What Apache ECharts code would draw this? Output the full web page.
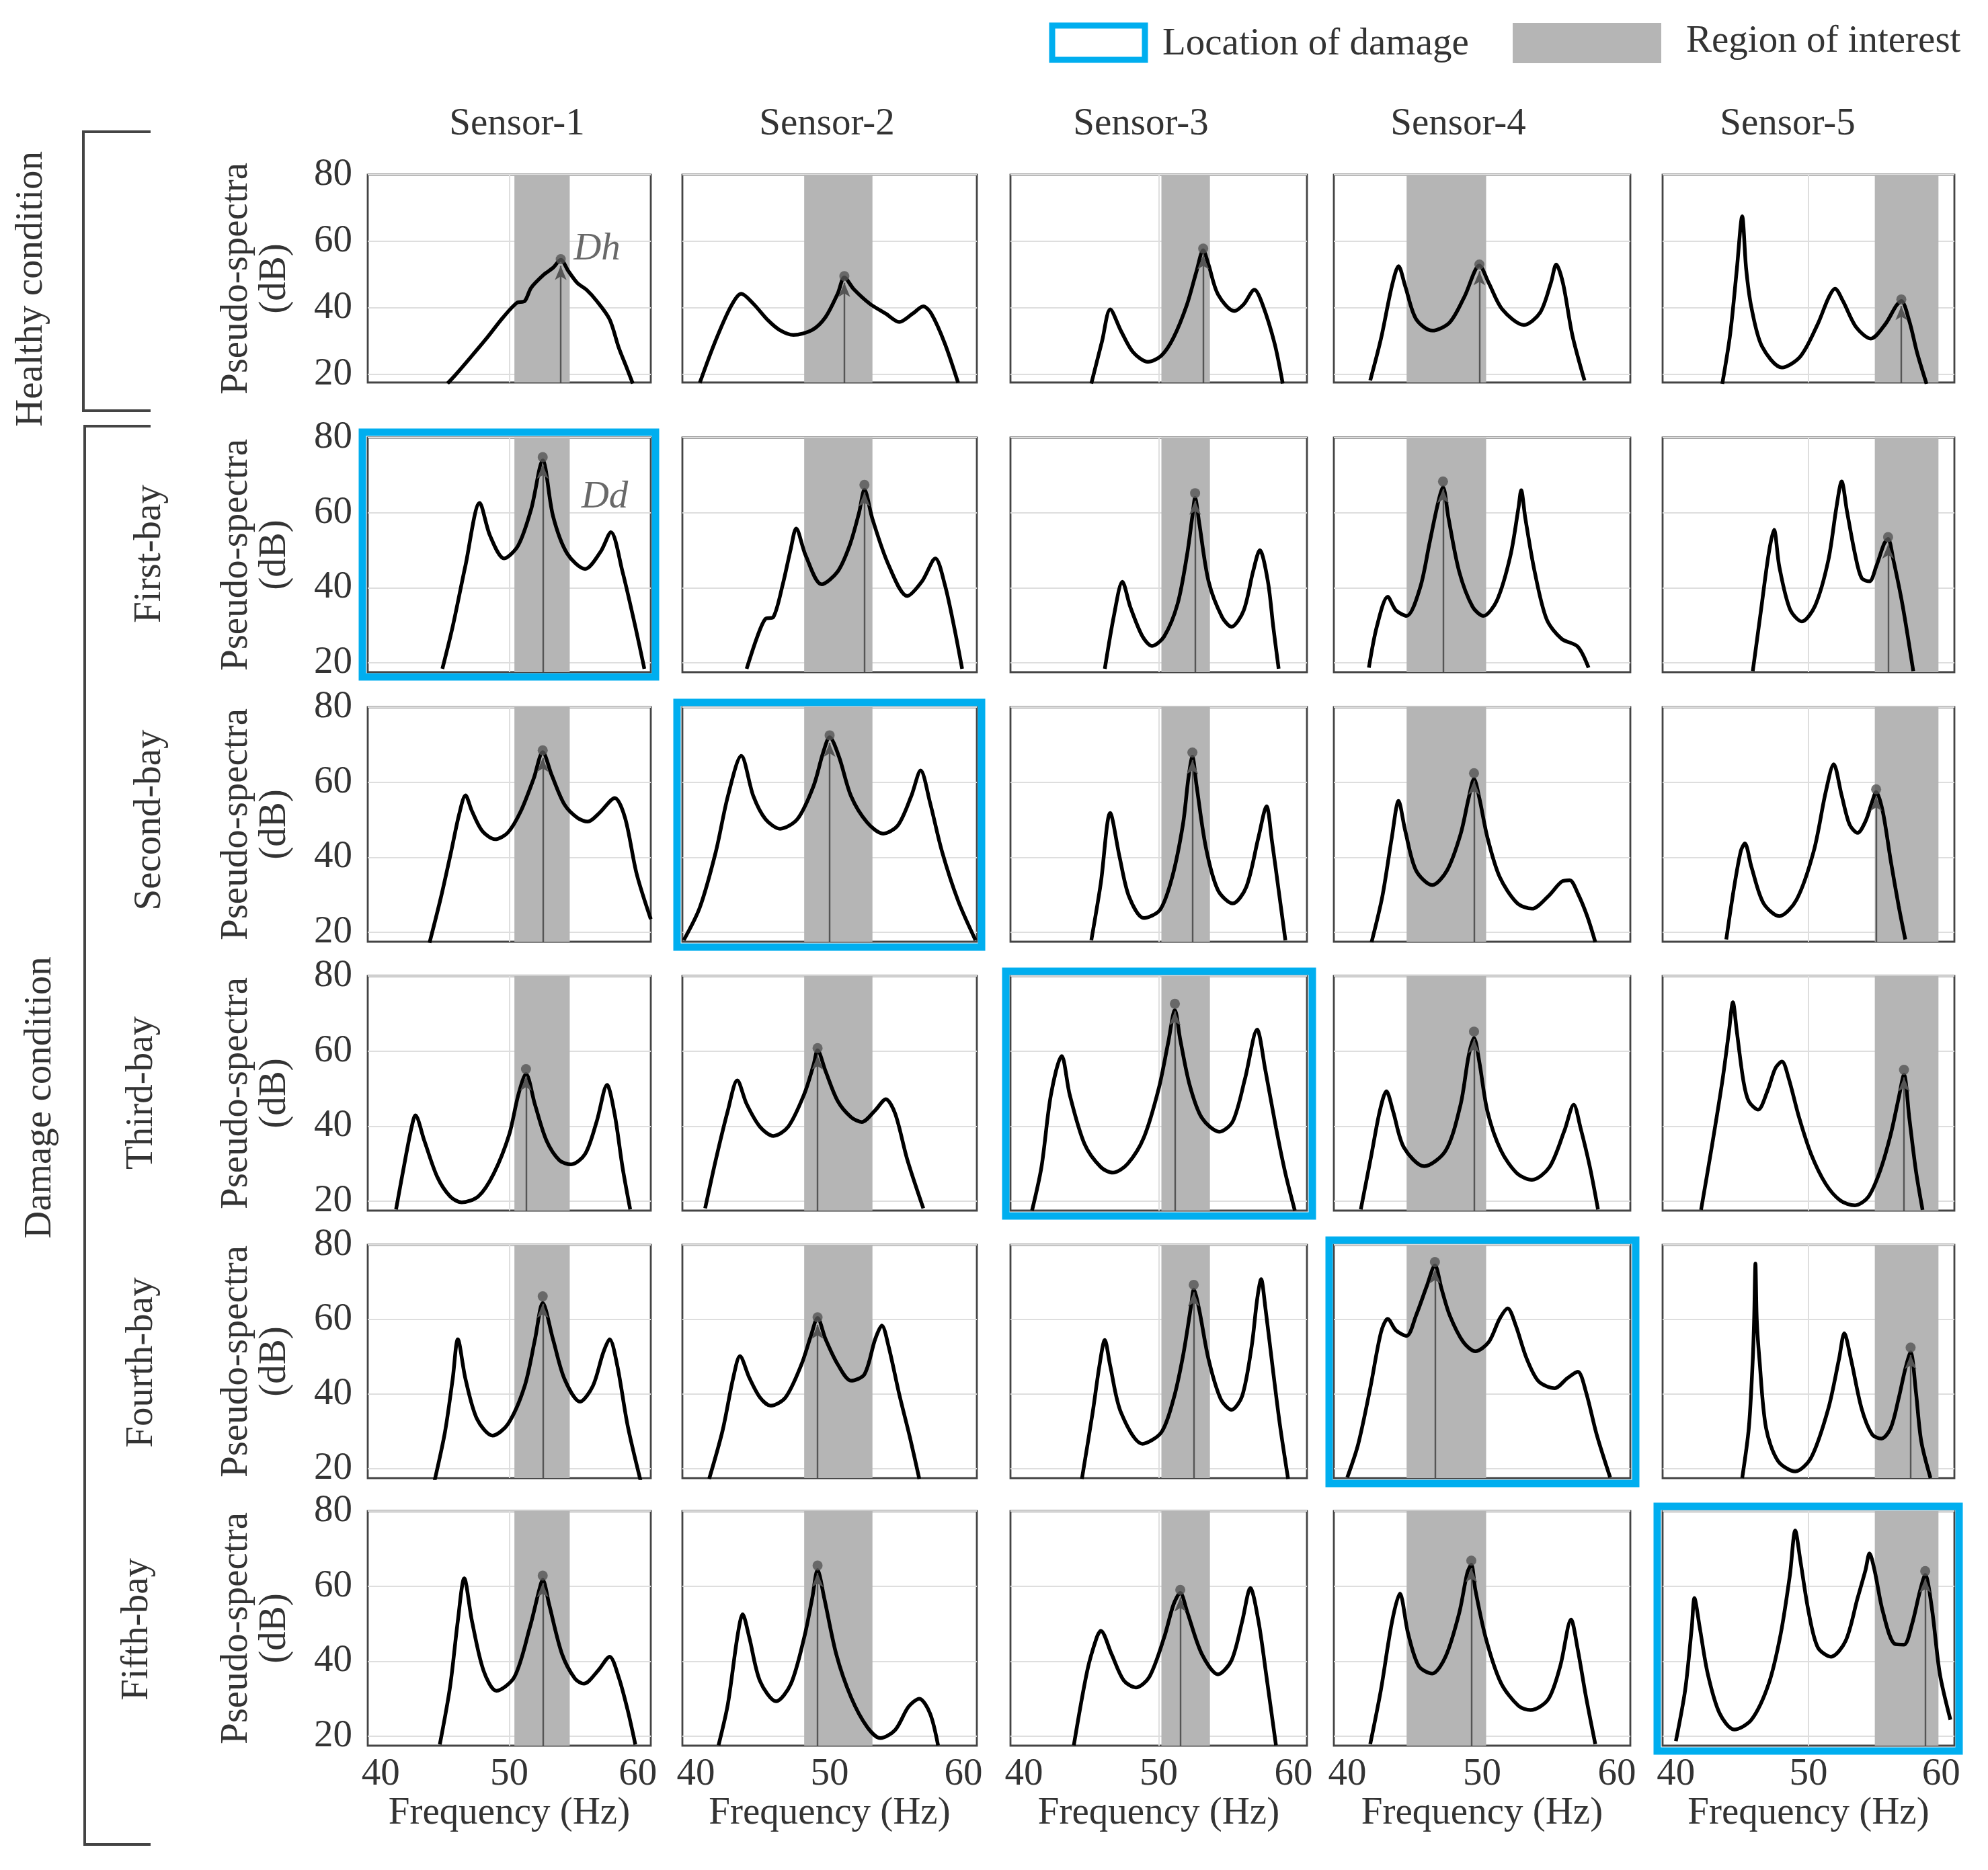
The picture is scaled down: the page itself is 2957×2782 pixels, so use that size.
<!DOCTYPE html>
<html>
<head>
<meta charset="utf-8">
<script src="https://cdn.jsdelivr.net/npm/echarts@6/dist/echarts.min.js"></script>
<style>
html, body { margin: 0; background: #fff; }
#chart { width: 2957px; height: 2782px; }
</style>
</head>
<body>
<div id="chart"></div>
<script>
// labels
var sensorNames = ['Sensor-1', 'Sensor-2', 'Sensor-3', 'Sensor-4', 'Sensor-5'];
var bayNames = ['', 'First-bay', 'Second-bay', 'Third-bay', 'Fourth-bay', 'Fifth-bay'];
var freqTicks = [40, 50, 60];
var dbTicks = [20, 40, 60, 80];

// region of interest per sensor (Hz)
var roiLow = [50.4, 48.1, 50.2, 44.4, 55.0];
var roiHigh = [54.7, 53.2, 53.8, 50.3, 59.8];

// damaged sensor column per row (-1 = healthy)
var damageAt = [-1, 0, 1, 2, 3, 4];

// pseudo-spectra [Hz, dB]
var healthy_s1 = [[45.2,17.2],[45.8,19.7],[47.0,25.1],[48.3,31.1],[49.5,37],[50.6,41.5],[51.2,42],[51.7,46],[52.7,50],[53.4,52],[54.0,54.4],[54.6,51],[55.3,47.4],[56.0,45.4],[56.8,42],[57.8,36.5],[58.5,28.1],[59.1,22.2],[59.6,17.2]];
var healthy_s2 = [[40.3,17.4],[41.4,29.3],[42.6,40.2],[43.4,44.2],[44.3,41.2],[45.4,36.2],[46.3,33.2],[47.3,31.8],[48.7,33.3],[49.7,37.2],[50.6,44.2],[51.1,49.1],[51.8,45.6],[53.0,41.2],[54.2,38.2],[55.2,35.7],[56.2,38.2],[57.0,40.4],[57.6,38.2],[58.6,29.3],[59.6,17.4]];
var healthy_s3 = [[45.0,17.2],[45.8,30],[46.4,39.5],[47.2,33],[48.1,26.6],[49.2,23.7],[50.2,25.6],[51.1,31],[52.1,41],[52.8,50.9],[53.3,57.3],[53.7,52.9],[54.4,44],[55.6,39],[56.3,41],[57.1,45.4],[57.7,41],[58.6,29.2],[59.2,17.2]];
var healthy_s4 = [[41.7,18.1],[42.5,30.7],[43.3,46.4],[43.8,52.5],[44.3,46.4],[45.1,36.6],[46.3,33.1],[47.6,35.6],[48.7,43.4],[49.8,52.7],[50.5,47.4],[51.5,39.5],[53.1,34.8],[54.3,38.5],[55.1,47.4],[55.5,53],[56.0,47.4],[56.7,31.7],[57.6,18.1]];
var healthy_s5 = [[43.5,17.1],[44.1,32.2],[44.6,51.7],[45.0,67.5],[45.3,51.7],[45.7,40],[46.5,28.3],[48.0,22],[49.4,25.4],[50.7,35.1],[51.5,42.9],[52.0,45.7],[52.6,42],[53.6,34.1],[54.7,30.7],[55.8,35.1],[56.6,40.5],[57.0,42],[57.6,36],[58.2,26.3],[58.9,17.1]];

var bay1_s1 = [[44.8,18.4],[45.6,29.6],[46.6,46],[47.7,62.6],[48.5,53.9],[49.6,47.8],[50.7,51.3],[51.7,60.9],[52.6,73.9],[53.4,59.1],[54.5,49.1],[55.9,45],[57.1,49.6],[57.9,54.8],[58.8,44.3],[59.8,29.6],[60.5,18.4]];
var bay1_s2 = [[43.8,18.4],[44.6,27],[45.2,31.7],[45.8,32.2],[46.5,40.9],[47.1,50.4],[47.5,55.8],[48.2,48.7],[49.4,40.9],[50.6,44.3],[51.5,51.3],[52.2,60],[52.6,66.1],[53.2,58.3],[54.4,46.1],[55.8,37.8],[56.9,41.7],[57.9,47.8],[58.6,40.9],[59.3,29.6],[59.9,18.4]];
var bay1_s3 = [[46.0,18.4],[46.7,33],[47.3,41.6],[47.9,34.8],[48.8,27],[49.5,24.5],[50.4,27],[51.4,35.7],[52.1,48.7],[52.5,59.1],[52.7,63.9],[53.0,57.4],[53.7,41.7],[54.7,32.2],[55.4,29.6],[56.3,33.9],[57.0,44.3],[57.5,50],[58.1,41.7],[58.5,29.6],[58.9,18.4]];
var bay1_s4 = [[41.6,18.7],[42.2,29.8],[43.0,37.6],[43.6,34],[44.4,32.5],[45.4,40],[46.1,51.9],[46.7,62.1],[47.1,66.8],[47.5,58.7],[48.3,44.3],[49.3,34.9],[50.1,32.5],[51.1,36.6],[52.1,48.5],[52.7,61.3],[52.9,66],[53.2,58.7],[53.9,44.3],[54.8,31.5],[55.9,26.4],[57.1,24.3],[57.9,18.7]];
var bay1_s5 = [[45.8,17.8],[46.4,33.5],[47.0,49.1],[47.4,55.4],[47.8,45.6],[48.6,34.3],[49.5,31],[50.5,35.2],[51.5,47.4],[52.1,61.3],[52.5,68.3],[52.9,60.4],[53.5,49.1],[54.0,42.6],[54.6,41.7],[55.1,45.6],[55.7,51.7],[56.0,53],[56.4,47.4],[57.1,35.2],[57.9,17.8]];

var bay2_s1 = [[43.8,17.2],[44.7,29.5],[45.5,41.8],[46.1,51.4],[46.6,56.5],[47.1,52.3],[47.9,47],[48.9,44.8],[49.9,46.6],[50.9,52.3],[51.9,61],[52.6,68],[53.3,61.9],[54.3,54],[55.3,50.5],[56.1,49.5],[57.0,51.8],[58.2,55.8],[59.0,50.5],[59.9,35.6],[61.0,23.5]];
var bay2_s2 = [[39.1,17.9],[40.3,26.6],[41.5,41.5],[42.4,56.3],[43.4,67],[44.3,56.3],[45.2,50.2],[46.3,47.6],[47.6,50.2],[48.8,59],[49.5,67.7],[50.0,72],[50.7,66.8],[51.6,56.3],[52.8,49.3],[54.0,46.3],[55.1,48.5],[56.1,56.3],[56.8,63.1],[57.5,54.6],[58.4,41.5],[59.6,28.4],[60.9,17.9]];
var bay2_s3 = [[45.0,17.9],[45.7,33],[46.4,51.8],[47.1,40],[47.8,29.5],[48.9,23.8],[50.1,26],[51.0,34.7],[51.8,48.8],[52.2,61],[52.5,66.8],[52.8,59.3],[53.5,42.6],[54.4,31.2],[55.5,27.7],[56.5,32.1],[57.4,45.3],[58.0,53.6],[58.4,44.4],[58.9,31.2],[59.4,17.9]];
var bay2_s4 = [[41.8,17.4],[42.6,29.6],[43.3,45.2],[43.8,55],[44.3,47],[45.1,36.5],[46.3,32.6],[47.4,36.5],[48.4,46.1],[49.0,55.7],[49.4,60.9],[49.8,55.7],[50.4,45.2],[51.3,34.8],[52.6,27.8],[53.7,26.3],[54.9,29.6],[55.9,33.5],[56.5,33.9],[57.1,30.4],[57.8,24.3],[58.4,17.4]];
var bay2_s5 = [[43.8,18.1],[44.4,32.2],[44.9,41.7],[45.2,43.7],[45.7,37.4],[46.6,27.8],[47.8,24.3],[49.1,28.7],[50.4,41.7],[51.3,57.4],[51.9,64.8],[52.5,56.5],[53.1,48.7],[53.7,46.5],[54.3,49.6],[54.8,54.8],[55.1,57.4],[55.6,52.2],[56.2,39.1],[56.8,27],[57.3,18.1]];

var bay3_s1 = [[41.2,17.8],[41.9,30.9],[42.4,39.6],[42.7,42.9],[43.4,36.1],[44.4,26.5],[45.4,21.3],[46.3,19.7],[47.6,21.3],[48.8,27.4],[50.0,37.8],[50.7,48.3],[51.3,53.9],[52.0,45.7],[52.9,36.1],[53.9,30.9],[54.8,29.8],[55.9,32.6],[56.8,41.3],[57.6,51],[58.2,43],[58.8,29.1],[59.4,17.8]];
var bay3_s2 = [[40.7,18.1],[41.5,31.1],[42.4,44.2],[43.1,52.2],[43.8,45.9],[44.8,39.8],[45.8,37.4],[46.9,39.8],[48.1,48.5],[48.8,56.3],[49.1,60.2],[49.7,54.6],[50.6,46.7],[51.6,42.4],[52.4,41.1],[53.4,44.2],[54.2,47.2],[54.9,43.3],[55.8,31.1],[57.0,18.1]];
var bay3_s3 = [[40.6,17.5],[41.3,29.1],[42.0,48.3],[42.8,58.7],[43.4,48.3],[44.5,35.2],[45.7,29.1],[46.6,27.6],[47.7,30],[48.9,37],[50.0,50],[50.7,62.2],[51.2,70.9],[51.6,63],[52.3,50.9],[53.2,42.2],[54.5,38.5],[55.5,41.3],[56.4,52.6],[57.3,65.7],[57.9,55.2],[58.7,39.6],[59.4,27.4],[60.1,17.5]];
var bay3_s4 = [[41.0,17.8],[41.8,32.6],[42.4,43.9],[42.9,49.3],[43.4,43.9],[44.2,34.3],[45.7,29.3],[47.3,33.5],[48.4,45.7],[49.0,58.7],[49.4,63.5],[49.8,57],[50.4,43.9],[51.4,33.5],[52.6,27.4],[53.7,25.7],[55.0,29.1],[56.1,38.7],[56.8,45.7],[57.3,39.6],[58.0,29.1],[58.6,17.8]];
var bay3_s5 = [[41.9,17.7],[42.7,34.3],[43.5,51.9],[44.0,65.1],[44.3,73],[44.6,65.1],[45.1,51.9],[45.5,46.6],[46.2,44.4],[46.9,49.3],[47.5,55.4],[48.0,57.2],[48.5,52.8],[49.3,42.2],[50.2,32.5],[51.3,24.6],[52.4,20.2],[53.5,18.9],[54.5,21.1],[55.4,28.1],[56.2,37.8],[56.8,47.5],[57.2,53.7],[57.6,42.2],[58.1,28.1],[58.6,17.7]];

var bay4_s1 = [[44.2,16.9],[45.0,29.8],[45.6,44],[46.0,54.7],[46.6,44],[47.5,33.3],[48.7,28.9],[49.9,32],[51.2,42.2],[52.0,54.7],[52.6,64.4],[53.4,54.7],[54.3,44],[55.5,38],[56.5,42.2],[57.3,51.1],[57.8,54.7],[58.4,47.6],[59.2,31.6],[60.2,16.9]];
var bay4_s2 = [[41.0,17.3],[42.0,30.2],[42.8,44.4],[43.3,50.2],[44.0,44.4],[44.8,39.1],[45.6,36.9],[46.7,39.1],[47.9,48],[48.6,55.6],[49.1,60.4],[49.7,54.7],[50.6,48],[51.6,43.6],[52.6,45.3],[53.4,54.7],[53.9,58.4],[54.4,52.9],[55.2,40],[56.0,28.4],[56.7,17.3]];
var bay4_s3 = [[44.3,17.3],[45.1,35.1],[45.6,47.6],[46.0,54.5],[46.4,47.6],[47.2,35.1],[48.8,26.7],[50.2,29.8],[51.1,38.7],[51.8,50.2],[52.4,63.6],[52.6,68],[53.0,62.7],[53.7,49.3],[54.6,38.7],[55.4,35.8],[56.2,39.6],[56.9,52.9],[57.3,65.3],[57.6,70.8],[57.9,63.6],[58.5,45.8],[59.0,31.6],[59.6,17.3]];
var bay4_s4 = [[40.0,17.7],[40.8,26.5],[41.7,41.6],[42.5,56.6],[43.0,60.2],[43.6,57.1],[44.4,55.6],[45.1,61.1],[45.9,69],[46.5,74.5],[47.0,68.1],[47.6,61.1],[48.6,54],[49.5,51.5],[50.5,54],[51.3,60.2],[51.9,63],[52.5,58.4],[53.3,49.6],[54.2,43.4],[55.4,41.6],[56.3,44.2],[57.1,46],[57.7,40.7],[58.5,29.2],[59.5,17.7]];
var bay4_s5 = [[45.0,17.5],[45.5,30.9],[45.8,49.4],[45.9,60],[46.0,75],[46.1,60],[46.3,49.4],[46.8,30.9],[47.7,22.1],[49.0,19.3],[50.2,23],[51.5,36.2],[52.3,49.4],[52.7,56.3],[53.2,49.4],[54.0,36.2],[54.8,29.2],[55.5,28.1],[56.2,30.9],[56.8,38.9],[57.3,46.8],[57.7,51.2],[58.1,40.6],[58.5,27.4],[59.2,17.5]];

var bay5_s1 = [[44.6,17.8],[45.4,33.2],[46.0,50.7],[46.5,62.1],[47.1,50.7],[48.0,37.5],[49.0,32.1],[50.4,35.8],[51.6,49],[52.3,58.6],[52.6,61.7],[53.1,55.1],[54.1,41.9],[55.1,35.4],[55.8,34],[56.9,37.5],[57.8,41.2],[58.5,35.8],[59.2,27],[59.8,17.8]];
var bay5_s2 = [[41.7,17.6],[42.4,28.6],[43.1,46.3],[43.5,52.5],[44.0,46.3],[44.8,34.7],[46.0,29.3],[47.1,33.9],[48.1,46.3],[48.7,56.8],[49.1,64.3],[49.6,56.8],[50.5,41.8],[51.6,30.4],[52.8,22.5],[53.8,19.5],[54.9,21.7],[55.9,27.9],[56.7,30],[57.5,26.1],[58.1,17.6]];
var bay5_s3 = [[43.7,17.6],[44.7,37.5],[45.4,46.3],[45.7,48.1],[46.5,41.9],[47.4,34.9],[48.3,33],[49.3,35.8],[50.4,46.3],[51.1,55.1],[51.6,58.2],[52.1,53.3],[53.2,41.9],[54.4,36.5],[55.4,40.2],[56.2,50.7],[56.8,59.5],[57.4,50.7],[58.0,35.8],[58.7,17.6]];
var bay5_s4 = [[41.7,17.9],[42.5,32.5],[43.3,50.2],[43.9,58],[44.5,47.5],[45.3,38.7],[46.3,36.7],[47.3,41.3],[48.3,52.8],[48.9,63.5],[49.2,65.7],[49.5,59],[50.3,45.8],[51.4,34.2],[52.7,28.1],[53.6,27],[54.9,29.8],[55.8,38.7],[56.6,51.1],[57.1,43.1],[57.7,30.7],[58.4,17.9]];
var bay5_s5 = [[40.0,18.7],[40.7,32.3],[41.2,49],[41.4,56.8],[41.8,49],[42.4,36.7],[43.3,26.1],[44.4,21.8],[45.7,24.4],[47.0,34],[47.9,47.2],[48.6,63],[49.0,74.8],[49.4,66.5],[50.0,53.3],[50.7,43.7],[51.7,41.2],[52.8,45.4],[53.7,56.8],[54.3,64.3],[54.6,68.7],[55.0,63.9],[55.6,53.3],[56.5,44.6],[57.2,44.4],[57.8,49.8],[58.4,58.6],[58.8,63],[59.3,54.2],[59.9,36.7],[60.7,24.4]];

// marked peak per plot (Hz, dB)
var peakFreq = [
    [54.0, 51.1, 53.3, 49.8, 57.0],
    [52.6, 52.6, 52.7, 47.1, 56.0],
    [52.6, 50.0, 52.5, 49.4, 55.1],
    [51.3, 49.1, 51.2, 49.4, 57.2],
    [52.6, 49.1, 52.6, 46.5, 57.7],
    [52.6, 49.1, 51.6, 49.2, 58.8]
];
var peakDb = [
    [54.6, 49.5, 57.8, 53.0, 42.5],
    [74.8, 67.4, 65.2, 68.3, 53.5],
    [68.5, 72.5, 67.9, 62.4, 58.1],
    [55.2, 60.8, 72.6, 65.2, 55.0],
    [66.2, 60.6, 69.3, 75.4, 52.5],
    [62.8, 65.5, 59.0, 66.8, 64.0]
];

var curves = [
    [healthy_s1, healthy_s2, healthy_s3, healthy_s4, healthy_s5],
    [bay1_s1, bay1_s2, bay1_s3, bay1_s4, bay1_s5],
    [bay2_s1, bay2_s2, bay2_s3, bay2_s4, bay2_s5],
    [bay3_s1, bay3_s2, bay3_s3, bay3_s4, bay3_s5],
    [bay4_s1, bay4_s2, bay4_s3, bay4_s4, bay4_s5],
    [bay5_s1, bay5_s2, bay5_s3, bay5_s4, bay5_s5]
];

// layout, measured on a 1568 px wide copy and scaled up
var S = 1.886;
function p(v) { return Math.round(v * S); }
var FONT = '"Liberation Serif", "Times New Roman", serif';
var TXT = '#333';
var BLUE = '#00aeef';
var SHADE = '#b5b5b5';
var colL = [290, 538, 797, 1052, 1311];
var colR = [513, 770, 1031, 1286, 1541];
var rowT = [138, 345, 558, 770, 982, 1192];
var rowB = [302, 530, 743, 955, 1166, 1377];
var headerX = [408, 652, 900, 1150, 1410];
var bayY = [0, 437, 647, 862, 1075, 1285];
var bayX = [0, 118, 118, 112, 112, 108];
var fs = p(30);

var yMin = 17.5, yMax = 80, yStep = 2.5;
var xMin = 39, xMax = 61, xStep = 1;

// faint grid only at the labelled ticks
var yGridColors = [];
for (var i = 0; i < 8; i++) yGridColors.push(i === 1 ? '#dedede' : 'rgba(0,0,0,0)');
var xGridColors = [];
for (var i = 0; i <= 22; i++) xGridColors.push(i === 11 ? '#dedede' : 'rgba(0,0,0,0)');

var grids = [], xAxes = [], yAxes = [], series = [], graphics = [];

for (var r = 0; r < 6; r++) {
    for (var c = 0; c < 5; c++) {
        var idx = r * 5 + c;
        grids.push({
            left: p(colL[c]), top: p(rowT[r]),
            width: p(colR[c] - colL[c]), height: p(rowB[r] - rowT[r]),
            show: true, backgroundColor: '#fff',
            borderColor: '#444', borderWidth: 2.8
        });
        xAxes.push({
            type: 'value', gridIndex: idx, min: xMin, max: xMax, interval: xStep,
            axisLine: { show: false }, axisTick: { show: false },
            splitLine: { show: true, lineStyle: { color: xGridColors, width: 2 } },
            axisLabel: {
                show: r === 5, margin: p(8), color: TXT, fontFamily: FONT, fontSize: fs,
                formatter: function (v) { return freqTicks.indexOf(v) >= 0 ? String(v) : ''; }
            },
            name: r === 5 ? 'Frequency (Hz)' : '', nameLocation: 'middle', nameGap: p(36),
            nameTextStyle: { color: TXT, fontFamily: FONT, fontSize: fs }
        });
        yAxes.push({
            type: 'value', gridIndex: idx, min: yMin, max: yMax, interval: yStep,
            axisLine: { show: false }, axisTick: { show: false },
            splitLine: { show: true, lineStyle: { color: yGridColors, width: 2 } },
            axisLabel: {
                show: c === 0, margin: p(12), color: TXT, fontFamily: FONT, fontSize: fs,
                formatter: function (v) { return dbTicks.indexOf(v) >= 0 ? String(v) : ''; }
            },
            name: c === 0 ? 'Pseudo-spectra\n(dB)' : '', nameLocation: 'middle', nameGap: p(58),
            nameTextStyle: { color: TXT, fontFamily: FONT, fontSize: fs, lineHeight: p(30) }
        });

        series.push({
            type: 'line', xAxisIndex: idx, yAxisIndex: idx,
            data: curves[r][c], showSymbol: false, smooth: 0.3, z: 3,
            lineStyle: { color: '#000', width: 5.5 },
            silent: true,
            markArea: {
                silent: true,
                itemStyle: { color: SHADE, opacity: 1 },
                data: [[{ xAxis: roiLow[c] }, { xAxis: roiHigh[c] }]]
            },
            markLine: {
                silent: true, symbol: ['none', 'arrow'], symbolSize: [p(7), p(11)],
                label: { show: false },
                lineStyle: { color: '#555', width: 2.4, type: 'solid' },
                data: [[{ coord: [peakFreq[r][c], yMin] }, { coord: [peakFreq[r][c], peakDb[r][c] - 2] }]]
            }
        });
        series.push({
            type: 'scatter', xAxisIndex: idx, yAxisIndex: idx, z: 5, silent: true,
            symbolSize: p(8), itemStyle: { color: '#555' },
            data: [[peakFreq[r][c], peakDb[r][c]]]
        });

        if (damageAt[r] === c) {
            graphics.push({
                type: 'rect', z: 100,
                shape: { x: p(colL[c] - 4), y: p(rowT[r] - 4), width: p(colR[c] - colL[c] + 8), height: p(rowB[r] - rowT[r] + 8) },
                style: { fill: 'rgba(0,0,0,0)', stroke: BLUE, lineWidth: p(6) }
            });
        }
    }
}

// Dh / Dd annotations
var notes = [
    { grid: 0, text: 'Dh', at: [55.0, 57.5] },
    { grid: 5, text: 'Dd', at: [55.6, 64.0] }
];
notes.forEach(function (n) {
    series.push({
        type: 'scatter', xAxisIndex: n.grid, yAxisIndex: n.grid, symbolSize: 0, silent: true, z: 6,
        data: [n.at],
        label: {
            show: true, position: 'right', distance: 0, formatter: n.text,
            color: '#444', fontFamily: FONT, fontStyle: 'italic', fontSize: fs
        }
    });
});

function txt(x, y, s, opt) {
    opt = opt || {};
    return {
        type: 'text', x: p(x), y: p(y), rotation: opt.rot || 0, z: 50,
        style: {
            text: s, fill: TXT, font: (opt.size || fs) + 'px ' + FONT,
            textAlign: opt.align || 'center', textVerticalAlign: 'middle'
        }
    };
}

sensorNames.forEach(function (s, c) { graphics.push(txt(headerX[c], 98, s)); });
for (var r = 1; r < 6; r++) graphics.push(txt(bayX[r], bayY[r], bayNames[r], { rot: Math.PI / 2 }));
graphics.push(txt(25, 228, 'Healthy condition', { rot: Math.PI / 2 }));
graphics.push(txt(32, 866, 'Damage condition', { rot: Math.PI / 2 }));

// brackets
graphics.push({
    type: 'polyline', z: 50,
    shape: { points: [[p(119), p(104)], [p(66), p(104)], [p(66), p(324)], [p(119), p(324)]] },
    style: { fill: null, stroke: '#444', lineWidth: p(2) }
});
graphics.push({
    type: 'polyline', z: 50,
    shape: { points: [[p(119), p(336)], [p(67), p(336)], [p(67), p(1455)], [p(119), p(1455)]] },
    style: { fill: null, stroke: '#444', lineWidth: p(2) }
});

// legend
graphics.push({
    type: 'rect', z: 50,
    shape: { x: p(830), y: p(20), width: p(73), height: p(27) },
    style: { fill: '#fff', stroke: BLUE, lineWidth: p(5) }
});
graphics.push(txt(917, 35, 'Location of damage', { align: 'left' }));
graphics.push({
    type: 'rect', z: 50,
    shape: { x: p(1193), y: p(18), width: p(117), height: p(32) },
    style: { fill: SHADE }
});
graphics.push(txt(1330, 33, 'Region of interest', { align: 'left' }));

var chart = echarts.init(document.getElementById('chart'));
chart.setOption({
    animation: false,
    backgroundColor: '#fff',
    grid: grids,
    xAxis: xAxes,
    yAxis: yAxes,
    series: series,
    graphic: { elements: graphics }
});
</script>
</body>
</html>
